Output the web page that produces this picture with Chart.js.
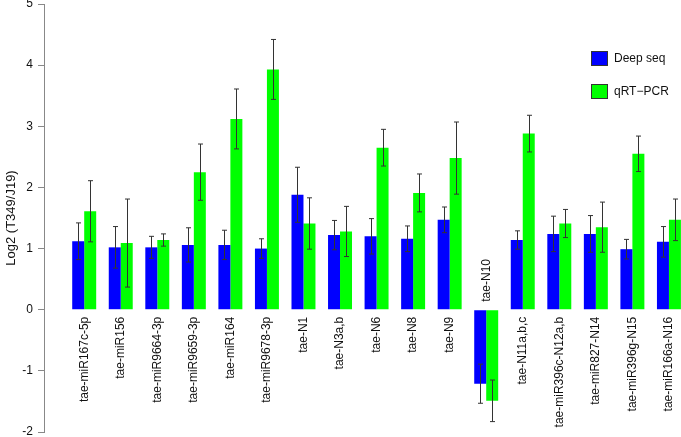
<!DOCTYPE html>
<html lang="en">

<head>
  <meta charset="UTF-8">
  <script src="https://cdn.jsdelivr.net/npm/chart.js"></script>
  <title>Log2 (T349/J19)</title>
  <style>
    body { margin: 0; background: #fff; overflow: hidden; }
    canvas { display: block; }
  </style>
</head>

<body>
  <canvas id="chart" width="681" height="437"></canvas>
</body>

<script>
  const categories = ['tae-miR167c-5p', 'tae-miR156', 'tae-miR9664-3p', 'tae-miR9659-3p', 'tae-miR164',
    'tae-miR9678-3p', 'tae-N1', 'tae-N3a,b', 'tae-N6', 'tae-N8', 'tae-N9', 'tae-N10', 'tae-N11a,b,c',
    'tae-miR396c-N12a,b', 'tae-miR827-N14', 'tae-miR396g-N15', 'tae-miR166a-N16']

  const deepSeq = [1.12, 1.02, 1.02, 1.06, 1.06, 1.00, 1.88, 1.22, 1.20, 1.16, 1.47, -1.21, 1.14, 1.24, 1.24, 0.99, 1.11]
  const deepSeqErr = [0.30, 0.34, 0.18, 0.28, 0.24, 0.16, 0.45, 0.24, 0.29, 0.21, 0.21, 0.32, 0.15, 0.29, 0.30, 0.16, 0.25]

  const qrtPcr = [1.61, 1.09, 1.14, 2.25, 3.12, 3.93, 1.41, 1.28, 2.65, 1.91, 2.48, -1.49, 2.88, 1.41, 1.35, 2.55, 1.47]
  const qrtPcrErr = [0.50, 0.72, 0.10, 0.46, 0.49, 0.49, 0.42, 0.41, 0.30, 0.31, 0.59, 0.34, 0.30, 0.23, 0.41, 0.29, 0.34]

  const yTicks = [-2, -1, 0, 1, 2, 3, 4, 5]

  const FONT = 'Liberation Sans, Arial, sans-serif'

  // error bars with small caps
  const errorBars = {
    id: 'errorBars',
    afterDatasetsDraw(chart) {
      const { ctx } = chart
      const y = chart.scales.y
      ctx.save()
      ctx.strokeStyle = '#333'
      ctx.lineWidth = 1
      chart.data.datasets.forEach((ds, di) => {
        chart.getDatasetMeta(di).data.forEach((bar, i) => {
          const v = ds.data[i].y
          const e = ds.errors[i]
          const x = Math.round(bar.x) + 0.5
          const top = y.getPixelForValue(v + e)
          const bot = y.getPixelForValue(v - e)
          ctx.beginPath()
          ctx.moveTo(x, top); ctx.lineTo(x, bot)
          ctx.moveTo(x - 2.5, top); ctx.lineTo(x + 2.5, top)
          ctx.moveTo(x - 2.5, bot); ctx.lineTo(x + 2.5, bot)
          ctx.stroke()
        })
      })
      ctx.restore()
    }
  }

  // category names written vertically at the zero line
  const zeroLabels = {
    id: 'zeroLabels',
    afterDraw(chart) {
      const { ctx } = chart
      const xs = chart.scales.x
      const y0 = chart.scales.y.getPixelForValue(0)
      ctx.save()
      ctx.fillStyle = '#111'
      ctx.font = '12px ' + FONT
      ctx.textBaseline = 'middle'
      categories.forEach((name, i) => {
        const x = xs.getPixelForValue(i)
        const negative = deepSeq[i] < 0 && qrtPcr[i] < 0
        ctx.save()
        ctx.translate(x, negative ? y0 - 8 : y0 + 7)
        ctx.rotate(-Math.PI / 2)
        ctx.textAlign = negative ? 'left' : 'right'
        ctx.fillText(name, 0, 0)
        ctx.restore()
      })
      ctx.restore()
    }
  }

  // boxed legend in the upper right of the plot
  const boxLegend = {
    id: 'boxLegend',
    afterDraw(chart) {
      const { ctx, chartArea } = chart
      ctx.save()
      ctx.font = '12px ' + FONT
      ctx.textBaseline = 'middle'
      chart.data.datasets.forEach((ds, i) => {
        const bx = chartArea.right - 90
        const by = chartArea.top + 47 + i * 33
        ctx.fillStyle = ds.backgroundColor
        ctx.fillRect(bx, by, 17, 15)
        ctx.strokeStyle = '#333'
        ctx.lineWidth = 1
        ctx.strokeRect(bx + 0.5, by + 0.5, 16, 14)
        ctx.fillStyle = '#111'
        ctx.fillText(ds.label, bx + 23, by + 8)
      })
      ctx.restore()
    }
  }

  new Chart(document.getElementById('chart'), {
    type: 'bar',
    data: {
      datasets: [{
        label: 'Deep seq',
        data: deepSeq.map((v, i) => ({ x: i, y: v })),
        errors: deepSeqErr,
        backgroundColor: '#0000ff'
      }, {
        label: 'qRT\u2212PCR',
        data: qrtPcr.map((v, i) => ({ x: i, y: v })),
        errors: qrtPcrErr,
        backgroundColor: '#00ff00'
      }]
    },
    options: {
      responsive: false,
      animation: false,
      categoryPercentage: 0.656,
      barPercentage: 1,
      layout: { padding: 0 },
      plugins: {
        legend: { display: false },
        tooltip: { enabled: false }
      },
      scales: {
        x: {
          type: 'linear',
          display: false,
          offset: false,
          min: -1.1,
          max: 16.33
        },
        y: {
          min: -2,
          max: 5,
          afterBuildTicks: (s) => { s.ticks = yTicks.map(v => ({ value: v })) },
          afterFit: (s) => { s.width = 44; s.paddingTop = 4; s.paddingBottom = 5 },
          border: { display: true, color: '#888', width: 1 },
          grid: { display: true, drawOnChartArea: false, tickLength: 6, color: '#888' },
          ticks: { color: '#111', padding: 5, font: { family: FONT, size: 12 } },
          title: {
            display: true,
            text: 'Log2 (T349/J19)',
            color: '#111',
            padding: { top: 4 },
            font: { family: FONT, size: 13 }
          }
        }
      }
    },
    plugins: [errorBars, zeroLabels, boxLegend]
  })
</script>

</html>
